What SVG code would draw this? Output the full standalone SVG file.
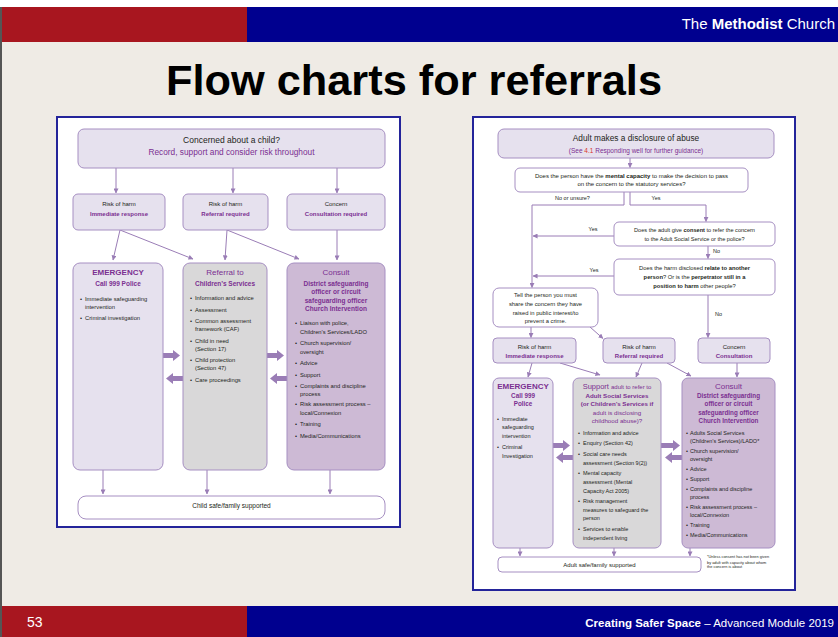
<svg xmlns="http://www.w3.org/2000/svg" width="838" height="637" viewBox="0 0 838 637">
<defs>
<style>
text{font-family:"Liberation Sans",Arial,Helvetica,sans-serif;fill:#231F20}
.c{text-anchor:middle}
.e{text-anchor:end}
.p{fill:#7B2F91}
.b{font-weight:bold}
.w{fill:#FFFFFF}
.k{fill:#000000}
.lav{fill:#E6E1EE;stroke:#A68FC2;stroke-width:1}
.wht{fill:#FFFFFF;stroke:#A68FC2;stroke-width:1}
.gry{fill:#D9D8D9;stroke:#A68FC2;stroke-width:1}
.pur{fill:#CDBAD5;stroke:#A68FC2;stroke-width:1}
.ar{fill:none;stroke:#9A7DB6;stroke-width:1;marker-end:url(#ah)}
.fat{fill:#9A7DB6}
.panel{fill:#FFFFFF;stroke:#24249A;stroke-width:2}
</style>
<marker id="ah" viewBox="0 0 6 6" refX="5.5" refY="3" markerWidth="5" markerHeight="5" markerUnits="userSpaceOnUse" orient="auto"><path d="M0,0 L6,3 L0,6 z" fill="#9A7DB6"/></marker>
</defs>

<!-- slide background -->
<rect x="0" y="0" width="838" height="637" fill="#EFEBE5"/>
<rect x="0" y="0" width="838" height="7" fill="#FFFFFF"/>
<rect x="0" y="7" width="2" height="630" fill="#555555"/>
<rect x="2" y="7" width="245" height="35" fill="#A8161F"/>
<rect x="247" y="7" width="591" height="35" fill="#00008F"/>
<text class="w e" x="835" y="29" font-size="15">The <tspan class="w b">Methodist</tspan> Church</text>
<text class="c b k" x="414" y="95" font-size="42" textLength="496" lengthAdjust="spacingAndGlyphs">Flow charts for referrals</text>
<rect x="2" y="606" width="245" height="31" fill="#A8161F"/>
<rect x="247" y="606" width="591" height="31" fill="#00008F"/>
<text class="w" x="27" y="627" font-size="14">53</text>
<text class="w e" x="834" y="627" font-size="11.5"><tspan class="w b">Creating Safer Space</tspan> – Advanced Module 2019</text>

<!-- panels -->
<rect class="panel" x="57" y="117" width="343" height="410"/>
<rect class="panel" x="473" y="117" width="322" height="473"/>

<!-- LEFT CHART connectors -->
<g id="left-connectors">
<path class="ar" d="M116,168 V193"/>
<path class="ar" d="M233,168 V193"/>
<path class="ar" d="M337,168 V193"/>
<path class="ar" d="M120,230 L113,260"/>
<path class="ar" d="M120,230 L193,259"/>
<path class="ar" d="M227,230 L225,260"/>
<path class="ar" d="M227,230 L299,259"/>
<path class="ar" d="M337,230 V260"/>
<path class="ar" d="M103,470 V494"/>
<path class="ar" d="M207,470 V494"/>
<path class="ar" d="M330,470 V494"/>
<polygon class="fat" points="163,353 173,353 173,350 180,355.5 173,361 173,358 163,358"/>
<polygon class="fat" points="267,353 277,353 277,350 284,355.5 277,361 277,358 267,358"/>
<polygon class="fat" points="183,376 173,376 173,373 166,378.5 173,384 173,381 183,381"/>
<polygon class="fat" points="287,376 277,376 277,373 270,378.5 277,384 277,381 287,381"/>
</g>

<!-- LEFT CHART nodes -->
<g id="child-top">
<rect class="lav" x="78" y="129" width="307" height="39" rx="6"/>
<text class="c" x="231.5" y="143" font-size="8.5">Concerned about a child?</text>
<text class="c p" x="231.5" y="155" font-size="8.3">Record, support and consider risk throughout</text>
</g>
<g id="child-risk-immediate">
<rect class="lav" x="73" y="194" width="92" height="36" rx="5"/>
<text class="c" x="119" y="206" font-size="6">Risk of harm</text>
<text class="c p b" x="119" y="216" font-size="6">Immediate response</text>
</g>
<g id="child-risk-referral">
<rect class="lav" x="183" y="194" width="85" height="36" rx="5"/>
<text class="c" x="225.5" y="206" font-size="6">Risk of harm</text>
<text class="c p b" x="225.5" y="216" font-size="6">Referral required</text>
</g>
<g id="child-concern">
<rect class="lav" x="287" y="194" width="98" height="36" rx="5"/>
<text class="c" x="336" y="206" font-size="6">Concern</text>
<text class="c p b" x="336" y="216" font-size="6">Consultation required</text>
</g>
<g id="child-emergency">
<rect class="lav" x="73" y="263" width="90" height="207" rx="7"/>
<text class="c p b" x="118" y="275" font-size="8">EMERGENCY</text>
<text class="c p b" x="118" y="286" font-size="6.5">Call 999 Police</text>
<g font-size="5.8">
<text x="80" y="301">•</text><text x="85" y="301">Immediate safeguarding</text>
<text x="85" y="309">intervention</text>
<text x="80" y="320">•</text><text x="85" y="320">Criminal investigation</text>
</g>
</g>
<g id="child-referral">
<rect class="gry" x="183" y="263" width="84" height="207" rx="7"/>
<text class="c p" x="225" y="275" font-size="8">Referral to</text>
<text class="c p b" x="225" y="286" font-size="6.5">Children’s Services</text>
<g font-size="5.8">
<text x="190" y="300">•</text><text x="195" y="300">Information and advice</text>
<text x="190" y="312">•</text><text x="195" y="312">Assessment</text>
<text x="190" y="322.5">•</text><text x="195" y="322.5">Common assessment</text>
<text x="195" y="330.5">framework (CAF)</text>
<text x="190" y="342.5">•</text><text x="195" y="342.5">Child in need</text>
<text x="195" y="350.5">(Section 17)</text>
<text x="190" y="361.5">•</text><text x="195" y="361.5">Child protection</text>
<text x="195" y="369.5">(Section 47)</text>
<text x="190" y="382">•</text><text x="195" y="382">Care proceedings</text>
</g>
</g>
<g id="child-consult">
<rect class="pur" x="287" y="263" width="98" height="207" rx="7"/>
<text class="c p" x="336" y="275" font-size="8">Consult</text>
<g class="c" font-size="6.5">
<text class="c p b" x="336" y="286">District safeguarding</text>
<text class="c p b" x="336" y="294">officer or circuit</text>
<text class="c p b" x="336" y="303">safeguarding officer</text>
<text class="c p b" x="336" y="311">Church Intervention</text>
</g>
<g font-size="5.8">
<text x="295" y="325">•</text><text x="300" y="325">Liaison with police,</text>
<text x="300" y="334">Children’s Services/LADO</text>
<text x="295" y="345">•</text><text x="300" y="345">Church supervision/</text>
<text x="300" y="353.5">oversight</text>
<text x="295" y="364.5">•</text><text x="300" y="364.5">Advice</text>
<text x="295" y="376.5">•</text><text x="300" y="376.5">Support</text>
<text x="295" y="387.5">•</text><text x="300" y="387.5">Complaints and discipline</text>
<text x="300" y="396">process</text>
<text x="295" y="406">•</text><text x="300" y="406">Risk assessment process –</text>
<text x="300" y="415">local/Connexion</text>
<text x="295" y="426">•</text><text x="300" y="426">Training</text>
<text x="295" y="437.5">•</text><text x="300" y="437.5">Media/Communications</text>
</g>
</g>
<g id="child-outcome">
<rect class="wht" x="78" y="496" width="307" height="23" rx="8"/>
<text class="c" x="231.5" y="507.5" font-size="6.5">Child safe/family supported</text>
</g>

<!-- RIGHT CHART connectors -->
<g id="right-connectors">
<path class="ar" d="M630,158 V167.5"/>
<path class="ar" d="M624,192 V205 H532 V287.5"/>
<path class="ar" d="M630,192 V205 H706 V221.5"/>
<path class="ar" d="M614,236 H533"/>
<path class="ar" d="M708,246 V258.5"/>
<path class="ar" d="M614,276 H533"/>
<path class="ar" d="M708,295 V337.5"/>
<path class="ar" d="M531,327 V337.5"/>
<path class="ar" d="M590,327 L603,338.5"/>
<path class="ar" d="M532,363 L528,377"/>
<path class="ar" d="M560,363 L600,375"/>
<path class="ar" d="M642,363 L636,377"/>
<path class="ar" d="M667,363 L691,376"/>
<path class="ar" d="M737,363 V377"/>
<path class="ar" d="M520,548 V556"/>
<path class="ar" d="M614,548 V556"/>
<path class="ar" d="M690,548 V556"/>
<polygon class="fat" points="553,443 563,443 563,440 570,445.5 563,451 563,448 553,448"/>
<polygon class="fat" points="661,443 673,443 673,440 680,445.5 673,451 673,448 661,448"/>
<polygon class="fat" points="573,455 563,455 563,452 556,457.5 563,463 563,460 573,460"/>
<polygon class="fat" points="682,455 672,455 672,452 665,457.5 672,463 672,460 682,460"/>
<g font-size="5.5">
<text class="c" x="572.5" y="200">No or unsure?</text>
<text class="c" x="656" y="200">Yes</text>
<text class="c" x="593" y="231">Yes</text>
<text x="713" y="253">No</text>
<text class="c" x="594" y="271.5">Yes</text>
<text x="715" y="316">No</text>
</g>
</g>

<!-- RIGHT CHART nodes -->
<g id="adult-top">
<rect class="lav" x="498" y="129" width="276" height="29" rx="6"/>
<text class="c" x="636" y="141" font-size="8.3">Adult makes a disclosure of abuse</text>
<text class="c p" x="636" y="152.5" font-size="6.5">(See <tspan fill="#D9312B">4.1</tspan> Responding well for further guidance)</text>
</g>
<g id="adult-capacity">
<rect class="wht" x="515" y="168" width="233" height="24" rx="5"/>
<text class="c" x="631.5" y="177.5" font-size="6">Does the person have the <tspan class="b">mental capacity</tspan> to make the decision to pass</text>
<text class="c" x="631.5" y="186" font-size="6">on the concern to the statutory services?</text>
</g>
<g id="adult-consent">
<rect class="wht" x="614" y="222" width="161" height="24" rx="5"/>
<text class="c" x="694.5" y="232" font-size="5.6">Does the adult give <tspan class="b">consent</tspan> to refer the concern</text>
<text class="c" x="694.5" y="240.5" font-size="5.6">to the Adult Social Service or the police?</text>
</g>
<g id="adult-harm">
<rect class="wht" x="614" y="259" width="161" height="36" rx="5"/>
<text class="c" x="694.5" y="270" font-size="5.8">Does the harm disclosed <tspan class="b">relate to another</tspan></text>
<text class="c" x="694.5" y="279" font-size="5.8"><tspan class="b">person</tspan>? Or is the <tspan class="b">perpetrator still in a</tspan></text>
<text class="c" x="694.5" y="288" font-size="5.8"><tspan class="b">position to harm</tspan> other people?</text>
</g>
<g id="adult-tell">
<rect class="wht" x="493" y="288" width="105" height="39" rx="6"/>
<g font-size="5.8">
<text class="c" x="545.5" y="296.5">Tell the person you must</text>
<text class="c" x="545.5" y="305.5">share the concern they have</text>
<text class="c" x="545.5" y="314.5">raised in public interest/to</text>
<text class="c" x="545.5" y="323">prevent a crime.</text>
</g>
</g>
<g id="adult-risk-immediate">
<rect class="lav" x="493" y="338" width="83" height="25" rx="4"/>
<text class="c" x="534.5" y="349" font-size="6">Risk of harm</text>
<text class="c p b" x="534.5" y="358" font-size="6">Immediate response</text>
</g>
<g id="adult-risk-referral">
<rect class="lav" x="603" y="338" width="72" height="25" rx="4"/>
<text class="c" x="639" y="348.5" font-size="6">Risk of harm</text>
<text class="c p b" x="639" y="357.5" font-size="6">Referral required</text>
</g>
<g id="adult-concern">
<rect class="lav" x="698" y="338" width="72" height="25" rx="4"/>
<text class="c" x="734" y="348.5" font-size="6">Concern</text>
<text class="c p b" x="734" y="357.5" font-size="6">Consultation</text>
</g>
<g id="adult-emergency">
<rect class="lav" x="493" y="378" width="60" height="170" rx="6"/>
<text class="c p b" x="523" y="389" font-size="8">EMERGENCY</text>
<text class="c p b" x="523" y="398" font-size="6.3">Call 999</text>
<text class="c p b" x="523" y="406" font-size="6.3">Police</text>
<g font-size="5.5">
<text x="497" y="420.5">•</text><text x="502" y="420.5">Immediate</text>
<text x="502" y="429">safeguarding</text>
<text x="502" y="438">intervention</text>
<text x="497" y="449">•</text><text x="502" y="449">Criminal</text>
<text x="502" y="458">Investigation</text>
</g>
</g>
<g id="adult-support">
<rect class="gry" x="573" y="378" width="88" height="170" rx="6"/>
<text class="c p" x="617" y="389" font-size="7.5">Support <tspan font-size="6">adult to refer to</tspan></text>
<text class="c p b" x="617" y="398" font-size="6.2">Adult Social Services</text>
<text class="c p b" x="617" y="406" font-size="6.2">(or Children’s Services if</text>
<text class="c p" x="617" y="414.5" font-size="6.2">adult is disclosing</text>
<text class="c p" x="617" y="423" font-size="6.2">childhood abuse)?</text>
<g font-size="5.5">
<text x="578" y="435">•</text><text x="583" y="435">Information and advice</text>
<text x="578" y="445">•</text><text x="583" y="445">Enquiry (Section 42)</text>
<text x="578" y="456">•</text><text x="583" y="456">Social care needs</text>
<text x="583" y="465">assessment (Section 9(2))</text>
<text x="578" y="475">•</text><text x="583" y="475">Mental capacity</text>
<text x="583" y="484">assessment (Mental</text>
<text x="583" y="493">Capacity Act 2005)</text>
<text x="578" y="503">•</text><text x="583" y="503">Risk management</text>
<text x="583" y="512">measures to safeguard the</text>
<text x="583" y="520">person</text>
<text x="578" y="531">•</text><text x="583" y="531">Services to enable</text>
<text x="583" y="540">independent living</text>
</g>
</g>
<g id="adult-consult">
<rect class="pur" x="682" y="378" width="93" height="170" rx="6"/>
<text class="c p" x="728.5" y="389" font-size="8">Consult</text>
<g font-size="6.3">
<text class="c p b" x="728.5" y="398">District safeguarding</text>
<text class="c p b" x="728.5" y="406">officer or circuit</text>
<text class="c p b" x="728.5" y="414.5">safeguarding officer</text>
<text class="c p b" x="728.5" y="423">Church Intervention</text>
</g>
<g font-size="5.5">
<text x="686" y="435">•</text><text x="690" y="435">Adults Social Services</text>
<text x="690" y="443">(Children’s Services)/LADO*</text>
<text x="686" y="453">•</text><text x="690" y="453">Church supervision/</text>
<text x="690" y="461">oversight</text>
<text x="686" y="471">•</text><text x="690" y="471">Advice</text>
<text x="686" y="481">•</text><text x="690" y="481">Support</text>
<text x="686" y="491">•</text><text x="690" y="491">Complaints and discipline</text>
<text x="690" y="499">process</text>
<text x="686" y="509">•</text><text x="690" y="509">Risk assessment process –</text>
<text x="690" y="517">local/Connexion</text>
<text x="686" y="527">•</text><text x="690" y="527">Training</text>
<text x="686" y="537">•</text><text x="690" y="537">Media/Communications</text>
</g>
</g>
<g id="adult-outcome">
<rect class="wht" x="498" y="557" width="203" height="15" rx="4"/>
<text class="c" x="599.5" y="566.5" font-size="6">Adult safe/family supported</text>
</g>
<g id="footnote" font-size="3.9">
<text x="707" y="558">*Unless consent has not been given</text>
<text x="707" y="563.5">by adult with capacity about whom</text>
<text x="707" y="568">the concern is about</text>
</g>
</svg>
